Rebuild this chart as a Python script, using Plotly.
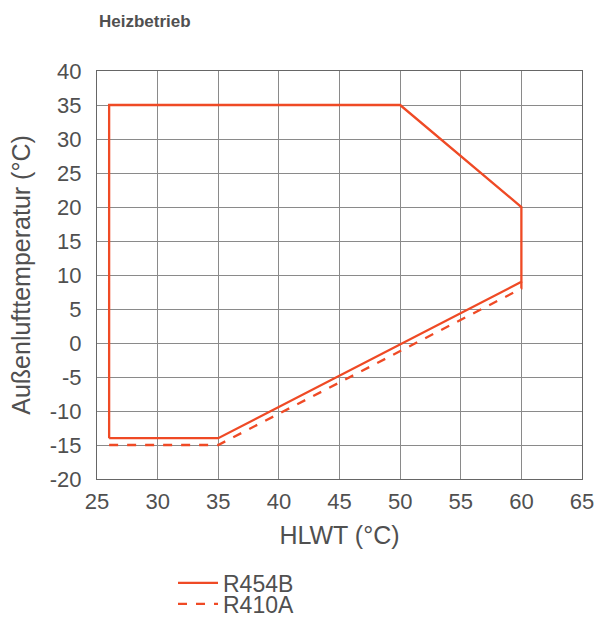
import plotly.graph_objects as go

# R454B envelope
r454b_x = [26, 26, 50, 60, 60, 35, 26]
r454b_y = [-14, 35, 35, 20, 9, -14, -14]
# R410A differing part
r410a_x = [26, 35, 60, 60]
r410a_y = [-15, -15, 8, 9]

x_ticks = [25, 30, 35, 40, 45, 50, 55, 60, 65]
y_ticks = [40, 35, 30, 25, 20, 15, 10, 5, 0, -5, -10, -15, -20]

COLOR = "#EF4A25"
TXT = "#505050"
GRID = "#8a8a8a"
FONT = "Liberation Sans"

PLOT_H = 408

fig = go.Figure()
fig.add_trace(go.Scatter(x=r454b_x, y=r454b_y, mode="lines", name="R454B",
                         line=dict(color=COLOR, width=2.3), legend="legend"))
fig.add_trace(go.Scatter(x=r410a_x, y=r410a_y, mode="lines", name="R410A",
                         line=dict(color=COLOR, width=2.3, dash="dash"), legend="legend2"))

leg_common = dict(xanchor="left", yanchor="middle", font=dict(size=23, color=TXT),
                  bgcolor="rgba(0,0,0,0)", itemwidth=40)
fig.update_layout(
    width=595, height=619,
    margin=dict(l=97, r=13, t=71, b=140, autoexpand=False),
    paper_bgcolor="white", plot_bgcolor="white",
    font=dict(family=FONT, color=TXT, size=22),
    showlegend=True,
    legend=dict(x=(173 - 97) / 485, y=-(583 - 479) / PLOT_H, **leg_common),
    legend2=dict(x=(173 - 97) / 485, y=-(604 - 479) / PLOT_H, **leg_common),
    annotations=[dict(text="<b>Heizbetrieb</b>", xref="paper", yref="paper",
                      x=0.0, y=1.0 + (71 - 21) / PLOT_H, xanchor="left", yanchor="middle",
                      showarrow=False, font=dict(size=17, color=TXT, family=FONT))],
)

fig.update_xaxes(range=[25, 65], tickvals=x_ticks, ticktext=[str(v) for v in x_ticks],
                 showgrid=True, gridcolor=GRID, gridwidth=1, automargin=False,
                 showline=True, linecolor="#666", linewidth=1, mirror=True,
                 zeroline=False, ticks="outside", ticklen=3, tickcolor="rgba(0,0,0,0)",
                 tickfont=dict(size=22, color=TXT),
                 title=dict(text="HLWT (°C)", font=dict(size=25, color=TXT), standoff=13))
fig.update_yaxes(range=[-20, 40], tickvals=y_ticks, ticktext=[str(v) for v in y_ticks],
                 showgrid=True, gridcolor=GRID, gridwidth=1, automargin=False,
                 showline=True, linecolor="#666", linewidth=1, mirror=True,
                 zeroline=False, ticks="outside", ticklen=10, tickcolor="rgba(0,0,0,0)",
                 tickfont=dict(size=22, color=TXT),
                 title=dict(text="Außenlufttemperatur (°C)", font=dict(size=25, color=TXT), standoff=12))

fig.write_html("out.html", config={"displayModeBar": False},
               post_script="document.body.style.margin='0px';document.body.style.overflow='hidden';")
